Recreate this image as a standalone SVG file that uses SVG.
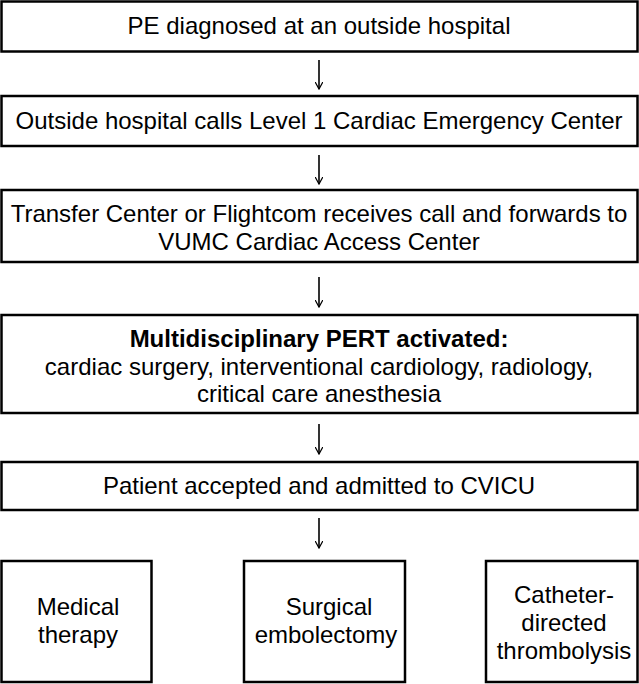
<svg xmlns="http://www.w3.org/2000/svg" width="639" height="684" viewBox="0 0 639 684">
<style>
rect{fill:#fff;stroke:#000;stroke-width:2.5}
text{font-family:"Liberation Sans",Arial,sans-serif;font-size:24px;text-anchor:middle;fill:#000}
.c line{stroke:#000;stroke-width:1.6}
</style>
<defs><marker id="a" viewBox="0 0 10 10" refX="9" refY="5" markerWidth="8" markerHeight="8" orient="auto" markerUnits="userSpaceOnUse"><path d="M0,0 L9,5 L0,10" fill="none" stroke="#000" stroke-width="1.6"/></marker></defs>
<rect x="0" y="0" width="639" height="684" style="fill:#fff;stroke:none"/>
<g id="n1"><rect x="1.5" y="1.5" width="636" height="50"/><text x="319" y="34">PE diagnosed at an outside hospital</text></g>
<g id="n2"><rect x="1.5" y="96" width="636" height="50"/><text x="319" y="129">Outside hospital calls Level 1 Cardiac Emergency Center</text></g>
<g id="n3"><rect x="1.5" y="190" width="636" height="72"/><text x="319" y="222">Transfer Center or Flightcom receives call and forwards to</text><text x="319" y="250">VUMC Cardiac Access Center</text></g>
<g id="n4"><rect x="1.5" y="315" width="636" height="98"/><text x="319" y="347" font-weight="bold">Multidisciplinary PERT activated:</text><text x="319" y="375">cardiac surgery, interventional cardiology, radiology,</text><text x="319" y="402">critical care anesthesia</text></g>
<g id="n5"><rect x="1.5" y="462" width="636" height="48"/><text x="319" y="494">Patient accepted and admitted to CVICU</text></g>
<g id="n6"><rect x="1.5" y="561" width="150" height="121"/><text x="78" y="615">Medical</text><text x="78" y="643">therapy</text></g>
<g id="n7"><rect x="244" y="561" width="161" height="121"/><text x="329" y="615">Surgical</text><text x="326" y="643">embolectomy</text></g>
<g id="n8"><rect x="486" y="561" width="151.5" height="121"/><text x="564" y="603">Catheter-</text><text x="564" y="631">directed</text><text x="564" y="659">thrombolysis</text></g>
<g class="c">
<line x1="319" y1="60" x2="319" y2="89" marker-end="url(#a)"/>
<line x1="319" y1="155" x2="319" y2="184" marker-end="url(#a)"/>
<line x1="319" y1="277" x2="319" y2="307" marker-end="url(#a)"/>
<line x1="319" y1="424" x2="319" y2="454" marker-end="url(#a)"/>
<line x1="319" y1="518" x2="319" y2="548" marker-end="url(#a)"/>
</g>
</svg>
